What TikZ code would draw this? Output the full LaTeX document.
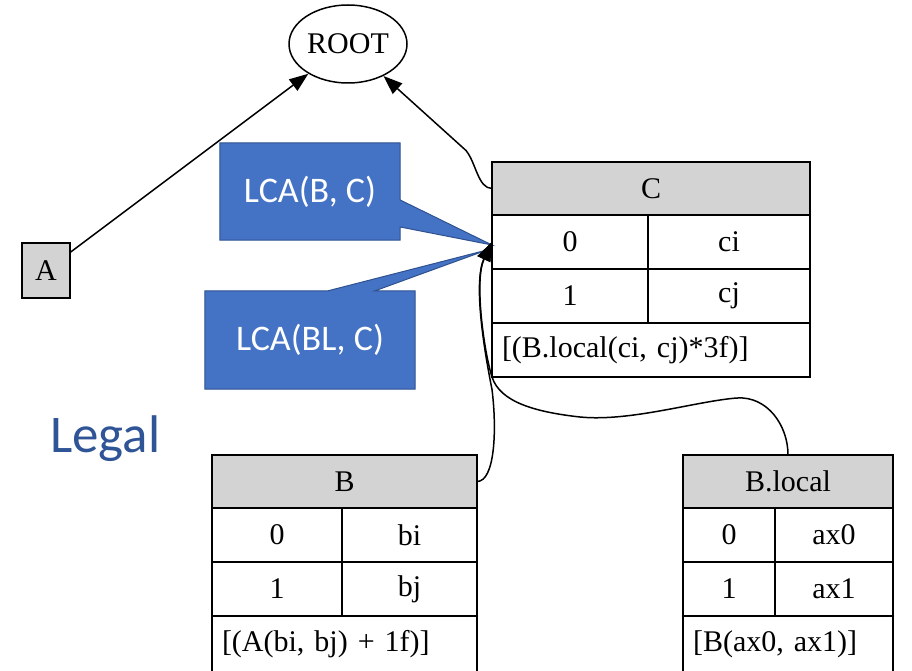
\documentclass[tikz,border=0pt]{standalone}
\usepackage{fontspec}
\setmainfont{Liberation Serif}
\newfontfamily\calfont{Carlito}
\usetikzlibrary{positioning, shapes.geometric, arrows.meta, backgrounds}

\definecolor{hdrgray}{HTML}{D3D3D3}
\definecolor{lcafill}{HTML}{4472C4}
\definecolor{lcaline}{HTML}{2F528F}
\definecolor{legalblue}{HTML}{2F5597}

\begin{document}
\begin{tikzpicture}[x=1pt, y=-1pt, font=\fontsize{30}{36}\selectfont,
  edge/.style={line width=1.5pt, -{Triangle[length=19pt, width=14pt]}},
  tab/.style={draw, line width=1.5pt, inner sep=0pt, outer sep=0pt, minimum height=54pt},
  hdr/.style={tab, fill=hdrgray, minimum height=53pt},
  foot/.style={tab, inner xsep=10pt, text width=#1, align=left},
  lca/.style={fill=lcafill, draw=lcaline, line width=1pt},
  lcatext/.style={text=white, font=\calfont\fontsize{36}{40}\selectfont, inner sep=0pt}]
	\useasboundingbox (0,0) rectangle (912,671);

	\node[draw, ellipse, line width=1.5pt, minimum width=118pt, minimum height=78pt, inner sep=0pt] (root) at (348,44) {ROOT};
	\node[draw, fill=hdrgray, line width=1.5pt, minimum width=48pt, minimum height=55pt, inner sep=0pt] (A) at (46,270.5) {A};

	% table C
	\node[hdr, minimum width=318pt, anchor=north west] (C) at (492,162) {C};
	\node[tab, minimum width=156pt, below right=0pt and 0pt of C.south west] (C0k) {0};
	\node[tab, minimum width=162pt, right=0pt of C0k] (C0v) {ci};
	\node[tab, minimum width=156pt, below=0pt of C0k] (C1k) {1};
	\node[tab, minimum width=162pt, right=0pt of C1k] (C1v) {cj};
	\node[foot=298pt, below right=0pt and 0pt of C1k.south west] (Cf) {[(B.local(ci, cj)*3f)]};

	% table B
	\node[hdr, minimum width=265pt, anchor=north west] (B) at (212,455) {B};
	\node[tab, minimum width=130pt, below right=0pt and 0pt of B.south west] (B0k) {0};
	\node[tab, minimum width=135pt, right=0pt of B0k] (B0v) {bi};
	\node[tab, minimum width=130pt, below=0pt of B0k] (B1k) {1};
	\node[tab, minimum width=135pt, right=0pt of B1k] (B1v) {bj};
	\node[foot=245pt, minimum height=56pt, below right=0pt and 0pt of B1k.south west] (Bf) {[(A(bi, bj) + 1f)]};

	% table B.local
	\node[hdr, minimum width=210pt, anchor=north west] (BL) at (683,455) {B.local};
	\node[tab, minimum width=92pt, below right=0pt and 0pt of BL.south west] (BL0k) {0};
	\node[tab, minimum width=118pt, right=0pt of BL0k] (BL0v) {ax0};
	\node[tab, minimum width=92pt, below=0pt of BL0k] (BL1k) {1};
	\node[tab, minimum width=118pt, right=0pt of BL1k] (BL1v) {ax1};
	\node[foot=190pt, minimum height=56pt, below right=0pt and 0pt of BL1k.south west] (BLf) {[B(ax0, ax1)]};

	% callouts
	\node[lcatext, minimum width=180pt, minimum height=97pt] (lcab) at (310,191.5) {LCA(B, C)};
	\node[lcatext, minimum width=210pt, minimum height=98pt] (lcabl) at (310,340) {LCA(BL, C)};
	\begin{scope}[on background layer]
		\filldraw[lca] (lcab.south west) -- (lcab.north west) -- (lcab.north east)
			-- ([shift={(0,8.5)}]lcab.east) -- ([shift={(0,3)}]C0k.west)
			-- ([shift={(0,35.5)}]lcab.east) -- (lcab.south east) -- cycle;
		\filldraw[lca] (lcabl.south west) -- (lcabl.north west) -- ([shift={(18,0)}]lcabl.north)
			-- ([shift={(-5,8)}]C0k.west) -- ([shift={(65,0)}]lcabl.north)
			-- (lcabl.north east) -- (lcabl.south east) -- cycle;
	\end{scope}

	\node[text=legalblue, font=\calfont\fontsize{53}{60}\selectfont, anchor=base west, inner sep=0pt] (legal) at (50,452) {Legal};

	\draw[edge] (A) -- (root);
	\draw[edge] (C.west) .. controls +(-14,0) and +(10,12) .. ++(-26,-38) -- (root);
	\draw[edge] (B.east) .. controls +(18,0) and +(5,40) .. ++(15,-92)
		.. controls +(-10,-50) and +(-18,38) .. (C0k.west);
	\draw[edge] (BL.north) .. controls +(0,-30) and +(30,-2) .. ++(-51,-57)
		.. controls +(-40,3) and +(50,5) .. ++(-157,19)
		.. controls +(-45,-5) and +(8,25) .. ++(-88,-40)
		.. controls +(-8,-25) and +(-18,38) .. (C0k.west);
\end{tikzpicture}
\end{document}
